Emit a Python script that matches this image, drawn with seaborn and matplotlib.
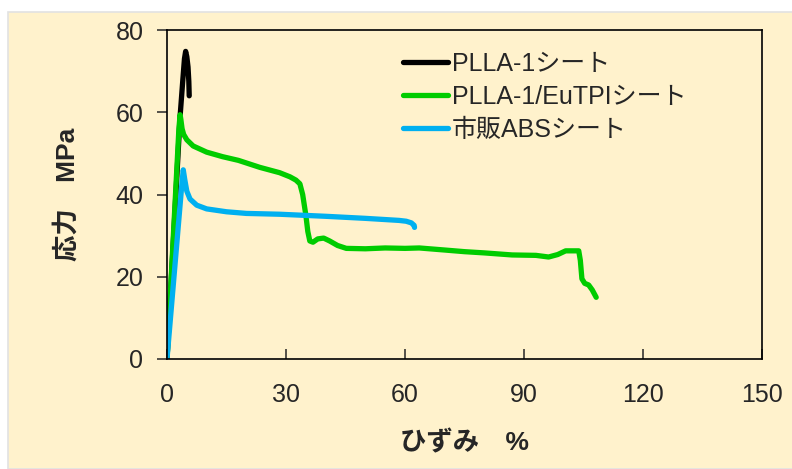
import pandas as pd
import matplotlib.pyplot as plt
import seaborn as sns
from matplotlib.patches import Rectangle

# strain (%) / stress (MPa) curves
plla_x = [0, 3.3, 4.0, 4.4, 4.7, 5.0, 5.3, 5.5, 5.6]
plla_y = [0, 59, 68, 73, 74.8, 73.5, 71, 67.5, 64]

eu_x = [0, 3.0, 3.3, 3.5, 3.8, 4.2, 5.0, 6.6, 10, 14, 18, 23.4, 28.4, 31, 32.5, 33.5,
        34.2, 35.0, 35.5, 36.0, 36.8, 38.0, 39.5, 41.0, 43.0, 45.2, 50, 55, 60,
        63.6, 70, 75, 80, 87, 93, 96.2, 98.5, 100.5, 103.8, 104.2, 104.6, 105.3,
        106.3, 107.2, 108.2]
eu_y = [0, 56, 59.4, 58.2, 56, 54.6, 53.3, 51.8, 50.3, 49.2, 48.3, 46.6, 45.3, 44.3,
        43.5, 42.6, 40, 35, 31, 28.7, 28.4, 29.2, 29.4, 28.7, 27.6, 26.9, 26.8, 27,
        26.9, 27, 26.5, 26.1, 25.8, 25.3, 25.2, 24.8, 25.4, 26.3, 26.3, 24, 19.5,
        18.4, 18, 16.8, 15]

abs_x = [0, 3.7, 4.1, 4.5, 5.0, 5.8, 7.5, 10, 15, 20, 28.4, 40, 50, 58.5, 60.3,
         61.6, 62.3, 62.4]
abs_y = [0, 42, 46, 43.5, 40.8, 38.9, 37.4, 36.5, 35.8, 35.4, 35.2, 34.7, 34.2,
         33.7, 33.5, 33.1, 32.5, 32.0]

labels = ["PLLA-1シート", "PLLA-1/EuTPIシート", "市販ABSシート"]
colors = ["#000000", "#00CC00", "#00B0F0"]

df = pd.concat([
    pd.DataFrame({"strain": plla_x, "stress": plla_y, "sample": labels[0]}),
    pd.DataFrame({"strain": eu_x, "stress": eu_y, "sample": labels[1]}),
    pd.DataFrame({"strain": abs_x, "stress": abs_y, "sample": labels[2]}),
])

sns.set_style("ticks")
plt.rcParams['font.family'] = ['Liberation Sans', 'Noto Sans CJK JP']

bg = "#FFF2CC"
fig = plt.figure(figsize=(7.92, 4.69), dpi=100, facecolor="white")
fig.patches.append(Rectangle((8 / 792, 0), 1, 1 - 12 / 469, transform=fig.transFigure,
                             facecolor=bg, edgecolor="#E2E2E2", linewidth=1.2, zorder=-10))
ax = fig.add_axes([167 / 792, 1 - 359 / 469, 595 / 792, 329 / 469])
ax.set_facecolor(bg)

sns.lineplot(data=df, x="strain", y="stress", hue="sample", palette=colors,
             sort=False, estimator=None, linewidth=3.8, ax=ax)
for ln in ax.get_lines():
    ln.set_solid_capstyle("round")
    ln.set_solid_joinstyle("round")

ax.set_xlim(0, 150)
ax.set_ylim(0, 80)
ax.set_xticks([0, 30, 60, 90, 120, 150])
ax.set_yticks([0, 20, 40, 60, 80])
for s in ax.spines.values():
    s.set_visible(True)
    s.set_linewidth(1.2)
    s.set_color("black")
ax.tick_params(axis="x", direction="in", length=7, width=1.1, pad=17, labelsize=18)
ax.tick_params(axis="y", direction="out", length=7, width=1.1, pad=10, labelsize=18)

ax.set_xlabel("ひずみ　%", fontsize=19, fontweight="bold", labelpad=17)
ax.set_ylabel("応力　MPa", fontsize=19, fontweight="bold", labelpad=26)

leg = ax.legend(loc="upper left", bbox_to_anchor=(0.397, 0.933), frameon=False,
                fontsize=18, handlelength=1.8, handletextpad=0.16,
                labelspacing=0.36, borderpad=0, borderaxespad=0)
for ln in leg.get_lines():
    ln.set_linewidth(3.8)

fig.savefig("out.png", dpi=100, facecolor=fig.get_facecolor())
